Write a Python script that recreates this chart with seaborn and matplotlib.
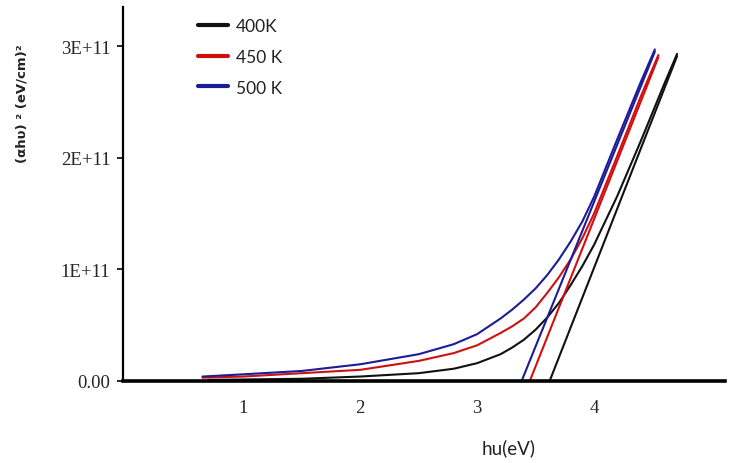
import numpy as np
import pandas as pd
import matplotlib
matplotlib.use("Agg")
import matplotlib.pyplot as plt
import seaborn as sns
from matplotlib.lines import Line2D

# ---- data (y in units of (eV/cm)^2) ----
series_names = ["400K", "450 K", "500 K"]
series_colors = ["#111111", "#d01010", "#1c1c98"]

x_400 = [0.70, 1.5, 2.0, 2.5, 2.8, 3.0, 3.2, 3.3, 3.4, 3.5, 3.6, 3.7, 3.8, 3.9, 4.0, 4.2, 4.4, 4.6, 4.71]
y_400 = [0.01e11, 0.02e11, 0.04e11, 0.07e11, 0.11e11, 0.16e11, 0.24e11, 0.30e11, 0.37e11,
         0.46e11, 0.57e11, 0.70e11, 0.86e11, 1.03e11, 1.22e11, 1.66e11, 2.15e11, 2.66e11, 2.93e11]

x_450 = [0.65, 1.0, 1.5, 2.0, 2.5, 2.8, 3.0, 3.2, 3.3, 3.4, 3.5, 3.6, 3.7, 3.8, 3.9, 4.0, 4.2, 4.4, 4.55]
y_450 = [0.03e11, 0.04e11, 0.07e11, 0.10e11, 0.18e11, 0.25e11, 0.32e11, 0.43e11, 0.49e11,
         0.56e11, 0.66e11, 0.79e11, 0.93e11, 1.09e11, 1.28e11, 1.50e11, 2.02e11, 2.55e11, 2.92e11]

x_500 = [0.65, 1.0, 1.5, 2.0, 2.5, 2.8, 3.0, 3.2, 3.3, 3.4, 3.5, 3.6, 3.7, 3.8, 3.9, 4.0, 4.2, 4.4, 4.52]
y_500 = [0.04e11, 0.06e11, 0.09e11, 0.15e11, 0.24e11, 0.33e11, 0.42e11, 0.56e11, 0.64e11,
         0.73e11, 0.83e11, 0.95e11, 1.09e11, 1.25e11, 1.43e11, 1.65e11, 2.17e11, 2.68e11, 2.97e11]

# linear extrapolation lines (band-gap fits): two points each
fit_x_400 = [3.62, 4.71]
fit_y_400 = [0.0, 2.91e11]
fit_x_450 = [3.45, 4.55]
fit_y_450 = [0.0, 2.90e11]
fit_x_500 = [3.38, 4.52]
fit_y_500 = [0.0, 2.95e11]

x_ticks = [1, 2, 3, 4]
x_tick_labels = ["1", "2", "3", "4"]
y_ticks = [0, 1e11, 2e11, 3e11]
y_tick_labels = ["0.00", "1E+11", "2E+11", "3E+11"]

x_label = "hu(eV)"
y_label = "(αhυ) ² (eV/cm)²"

# ---- build tables ----
curves = pd.concat([
    pd.DataFrame({"E": x_400, "val": y_400, "T": series_names[0]}),
    pd.DataFrame({"E": x_450, "val": y_450, "T": series_names[1]}),
    pd.DataFrame({"E": x_500, "val": y_500, "T": series_names[2]}),
], ignore_index=True)
fits = pd.concat([
    pd.DataFrame({"E": fit_x_400, "val": fit_y_400, "T": series_names[0]}),
    pd.DataFrame({"E": fit_x_450, "val": fit_y_450, "T": series_names[1]}),
    pd.DataFrame({"E": fit_x_500, "val": fit_y_500, "T": series_names[2]}),
], ignore_index=True)

sns.set_theme(style="white")
plt.rcParams["font.family"] = ["DejaVu Sans"]

fig = plt.figure(figsize=(7.33, 4.64), dpi=100)
ax = fig.add_axes([123 / 733, (464 - 382) / 464, (725 - 123) / 733, (382 - 8) / 464])

palette = dict(zip(series_names, series_colors))
sns.lineplot(data=curves, x="E", y="val", hue="T", palette=palette, ax=ax,
             linewidth=1.5, legend=False, sort=True, estimator=None)
sns.lineplot(data=fits, x="E", y="val", hue="T", palette=palette, ax=ax,
             linewidth=1.5, legend=False, sort=True, estimator=None)

ax.set_xlim(-0.03, 5.12)
ax.set_ylim(0, 3.35e11)

ax.set_xticks(x_ticks)
ax.set_xticklabels(x_tick_labels, family="Liberation Serif", fontsize=13.5)
ax.set_yticks(y_ticks)
ax.set_yticklabels(y_tick_labels, family="Liberation Serif", fontsize=13.5)
ax.tick_params(axis="x", length=0, pad=13)
ax.tick_params(axis="y", length=4, width=1.2, color="black", direction="out", left=True, pad=5)

for s in ["top", "right"]:
    ax.spines[s].set_visible(False)
ax.spines["left"].set_color("black")
ax.spines["left"].set_linewidth(1.6)
ax.spines["bottom"].set_color("black")
ax.spines["bottom"].set_linewidth(2.6)

ax.set_xlabel("")
ax.set_ylabel("")
fig.text(509 / 733, 1 - 448 / 464, x_label, ha="center", va="center",
         family="Lato", fontsize=13.5, color="#222222")
fig.text(22 / 733, 1 - 104 / 464, y_label, ha="center", va="center", rotation=90,
         fontsize=9.5, fontweight="bold", color="#222222")

handles = [Line2D([0], [0], color=c, lw=3) for c in series_colors]
leg = ax.legend(handles, series_names, loc="upper left",
                bbox_to_anchor=((198 - 123) / 602, (382 - 19) / 374),
                frameon=False, borderaxespad=0, borderpad=0,
                handlelength=1.75, handletextpad=0.45, labelspacing=0.85,
                prop={"family": "Lato", "size": 12.5})
for t in leg.get_texts():
    t.set_color("#222222")

fig.savefig("out.png", dpi=100, facecolor="white")
